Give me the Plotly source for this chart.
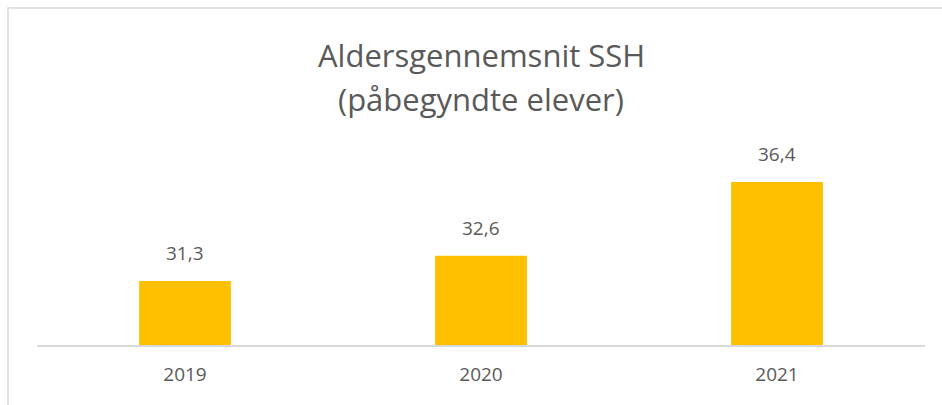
import plotly.graph_objects as go

years = ["2019", "2020", "2021"]
values = [31.3, 32.6, 36.4]
labels = ["31,3", "32,6", "36,4"]
title_lines = ["Aldersgennemsnit SSH", "(påbegyndte elever)"]

FONT = "Open Sans"
TXT = "#595959"

fig = go.Figure()
fig.add_trace(go.Bar(
    x=years, y=values,
    marker=dict(color="#FFC000", line=dict(width=0)),
    hoverinfo="skip",
))

# category axis: numeric-looking names are read as indices by annotations,
# so place data labels by category index
for i, (v, lab) in enumerate(zip(values, labels)):
    fig.add_annotation(
        x=i, y=v, xref="x", yref="y", text=lab, showarrow=False,
        yanchor="bottom", yshift=13,
        font=dict(family=FONT, size=19, color=TXT),
    )

title_y = [(345 - 55) / 194, (345 - 99) / 194]
for t, ty in zip(title_lines, title_y):
    fig.add_annotation(
        x=0.5, y=ty, xref="paper", yref="paper", text=t, showarrow=False,
        xanchor="center", yanchor="middle",
        font=dict(family=FONT, size=31, color=TXT),
    )

fig.update_layout(
    width=942, height=405,
    margin=dict(l=37, r=17, t=151, b=60),
    paper_bgcolor="white", plot_bgcolor="white",
    bargap=0.69,
    showlegend=False,
    xaxis=dict(
        type="category", categoryorder="array", categoryarray=years,
        range=[-0.5, len(years) - 0.5],
        showline=True, linecolor="#d9d9d9", linewidth=1.5,
        ticks="outside", ticklen=11, tickcolor="rgba(0,0,0,0)",
        tickfont=dict(family=FONT, size=19, color=TXT),
        showgrid=False, fixedrange=True,
    ),
    yaxis=dict(
        range=[28, 38], visible=False, showgrid=False, fixedrange=True,
    ),
)

fig.add_shape(
    type="rect", xref="paper", yref="paper",
    x0=(8 - 37) / 888, x1=1.2, y0=-0.6, y1=(345 - 8) / 194,
    line=dict(color="#d9d9d9", width=1.5), fillcolor="rgba(0,0,0,0)",
    layer="below",
)

fig.write_html(
    "out.html",
    config=dict(displayModeBar=False),
    post_script="document.body.style.margin='0';document.body.style.overflow='hidden';",
)
